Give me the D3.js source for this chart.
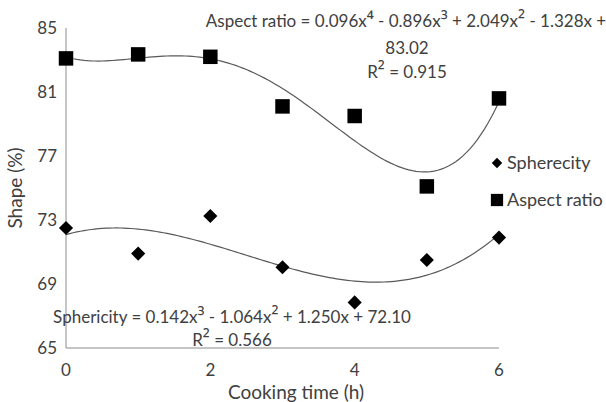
<!DOCTYPE html>
<html>
<head>
<meta charset="utf-8">
<script src="https://cdn.jsdelivr.net/npm/d3@7"></script>
<style>
  body { margin: 0; background: #fff; }
  svg text { font-family: Lato, "Open Sans", sans-serif; fill: #404040; }
</style>
</head>
<body>
<div id="app"></div>
<script>
// data
const hours = [0, 1, 2, 3, 4, 5, 6];
const sphericity = [72.5, 70.9, 73.25, 70.05, 67.85, 70.5, 71.9];
const aspectRatio = [83.1, 83.35, 83.2, 80.1, 79.5, 75.1, 80.6];
const yTicks = [65, 69, 73, 77, 81, 85];
const xTicks = [0, 2, 4, 6];
const aspectEq = ["Aspect ratio = 0.096x\u2074 - 0.896x\u00b3 + 2.049x\u00b2 - 1.328x +", "83.02", "R\u00b2 = 0.915"];
const sphEq = ["Sphericity = 0.142x\u00b3 - 1.064x\u00b2 + 1.250x + 72.10", "R\u00b2 = 0.566"];

const width = 606, height = 402;
const x = d3.scaleLinear().domain([0, 6]).range([66, 499]);
const y = d3.scaleLinear().domain([65, 85]).range([348, 28]);

const svg = d3.select("#app").append("svg")
  .attr("width", width).attr("height", height);

//least squares polynomial fit (same thing excel does for trendline)
const polyfit = (xs, ys, order) => {
  const n = order + 1;
  const A = [];
  for (let i = 0; i < n; i++) {
    A.push([]);
    for (let j = 0; j <= n; j++) A[i].push(0);
  }
  xs.forEach((xv, k) => {
    for (let i = 0; i < n; i++) {
      for (let j = 0; j < n; j++) A[i][j] += Math.pow(xv, i + j);
      A[i][n] += Math.pow(xv, i) * ys[k];
    }
  });
  for (let i = 0; i < n; i++) {
    let p = i;
    for (let r = i + 1; r < n; r++) if (Math.abs(A[r][i]) > Math.abs(A[p][i])) p = r;
    [A[i], A[p]] = [A[p], A[i]];
    for (let r = 0; r < n; r++) {
      if (r === i) continue;
      const f = A[r][i] / A[i][i];
      for (let c = i; c <= n; c++) A[r][c] -= f * A[i][c];
    }
  }
  return A.map((row, i) => row[n] / row[i]);
};
const polyval = (c, xv) => c.reduce((s, ci, i) => s + ci * Math.pow(xv, i), 0);

// text with the superscript digits a bit bigger (lato ones are tiny)
const supText = (sel, str) => {
  str.split(/([\u00b2\u00b3\u2074])/).forEach((part) => {
    if (!part) return;
    const t = sel.append("tspan").text(part);
    if (/[\u00b2\u00b3\u2074]/.test(part)) t.style("font-family", "'Open Sans'").style("font-size", "20px");
  });
  return sel;
};

// axes (no tick marks, grey lines)
const axisColor = "#8c8c8c";
svg.append("line").attr("x1", x(0)).attr("x2", x(0)).attr("y1", y(85)).attr("y2", y(65))
  .attr("stroke", axisColor).attr("stroke-width", 1);
svg.append("line").attr("x1", x(0)).attr("x2", x(6)).attr("y1", y(65)).attr("y2", y(65))
  .attr("stroke", axisColor).attr("stroke-width", 1);

svg.selectAll(".ytick").data(yTicks).enter().append("text")
  .attr("class", "ytick")
  .attr("x", x(0) - 9).attr("y", (d) => y(d))
  .attr("dy", "0.35em").attr("text-anchor", "end")
  .style("font-size", "17px").text((d) => d);

svg.selectAll(".xtick").data(xTicks).enter().append("text")
  .attr("class", "xtick")
  .attr("x", (d) => x(d)).attr("y", y(65) + 28)
  .attr("text-anchor", "middle")
  .style("font-size", "17px").text((d) => d);

svg.append("text")
  .attr("transform", "translate(22,188) rotate(-90)")
  .attr("text-anchor", "middle")
  .style("font-size", "19px").text("Shape (%)");
svg.append("text")
  .attr("x", 296).attr("y", 399)
  .attr("text-anchor", "middle")
  .style("font-size", "19px").text("Cooking time (h)");

// trendlines
const curve = (coef) => {
  const pts = d3.range(0, 6.001, 0.05).map((t) => [x(t), y(polyval(coef, t))]);
  return d3.line()(pts);
};
svg.append("path").attr("d", curve(polyfit(hours, aspectRatio, 4)))
  .attr("fill", "none").attr("stroke", "#595959").attr("stroke-width", 1.2);
svg.append("path").attr("d", curve(polyfit(hours, sphericity, 3)))
  .attr("fill", "none").attr("stroke", "#595959").attr("stroke-width", 1.2);

// markers
const sq = d3.symbol().type(d3.symbolSquare).size(210);
const dia = d3.symbol().type(d3.symbolSquare).size(100);
svg.selectAll(".ar").data(hours).enter().append("path")
  .attr("class", "ar")
  .attr("transform", (d, i) => `translate(${x(d)},${y(aspectRatio[i])})`)
  .attr("d", sq).attr("fill", "#000");
svg.selectAll(".sp").data(hours).enter().append("path")
  .attr("class", "sp")
  .attr("transform", (d, i) => `translate(${x(d)},${y(sphericity[i])}) rotate(45)`)
  .attr("d", dia).attr("fill", "#000");

// equations
supText(svg.append("text").attr("x", 406).attr("y", 27).attr("text-anchor", "middle")
  .style("font-size", "17px"), aspectEq[0]);
svg.append("text").attr("x", 407).attr("y", 54).attr("text-anchor", "middle")
  .style("font-size", "17px").text(aspectEq[1]);
supText(svg.append("text").attr("x", 407).attr("y", 78).attr("text-anchor", "middle")
  .style("font-size", "17px"), aspectEq[2]);
supText(svg.append("text").attr("x", 232).attr("y", 323).attr("text-anchor", "middle")
  .style("font-size", "17px"), sphEq[0]);
supText(svg.append("text").attr("x", 232).attr("y", 346).attr("text-anchor", "middle")
  .style("font-size", "17px"), sphEq[1]);

// legend
const legend = svg.append("g").attr("transform", "translate(497,0)");
legend.append("path").attr("transform", "translate(0,163) rotate(45)")
  .attr("d", d3.symbol().type(d3.symbolSquare).size(55)).attr("fill", "#000");
legend.append("path").attr("transform", "translate(0,200)")
  .attr("d", d3.symbol().type(d3.symbolSquare).size(150)).attr("fill", "#000");
legend.append("text").attr("x", 10).attr("y", 163).attr("dy", "0.35em")
  .style("font-size", "18px").text("Spherecity");
legend.append("text").attr("x", 10).attr("y", 200).attr("dy", "0.35em")
  .style("font-size", "18px").text("Aspect ratio");
</script>
</body>
</html>
